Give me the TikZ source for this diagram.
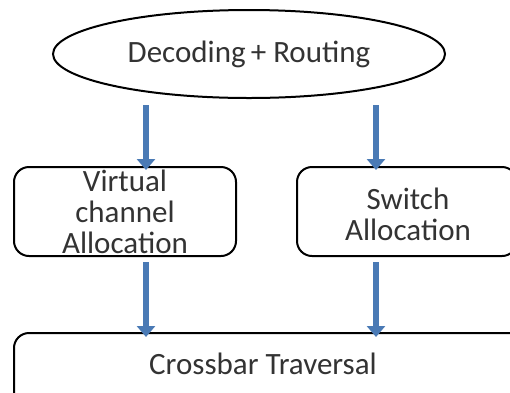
\documentclass[tikz,border=0pt]{standalone}
\usepackage{fontspec}
\setmainfont{Carlito}
\usetikzlibrary{shapes.geometric,arrows.meta}
\definecolor{txt}{HTML}{333333}
\definecolor{arrblue}{HTML}{4A7AB5}
\tikzset{
  lbl/.style={text=txt, font=\fontsize{31}{31}\selectfont, align=center, inner sep=0pt},
  box/.style={draw=black, line width=2pt, rounded corners=15pt, inner sep=0pt},
  oval/.style={draw=black, line width=2pt, ellipse, inner sep=0pt},
  arr/.style={draw=arrblue, line width=6pt, -{Triangle[width=18pt,length=11pt]}}
}
\begin{document}
\begin{tikzpicture}[x=1pt,y=-1pt]
\useasboundingbox (0,0) rectangle (510,392);
\clip (0,0) rectangle (510,392);
\node[oval, lbl, minimum width=392pt, minimum height=88pt] (dec) at (249,54) {Decoding\,+ Routing};
\node[box, minimum width=222pt, minimum height=89pt] (vc) at (125,211.5) {};
\node[lbl] (vct) at (125,212) {Virtual\\channel\\Allocation};
\node[box, minimum width=220pt, minimum height=89pt] (sw) at (407,211.5) {};
\node[lbl] (swt) at (408,214) {Switch\\Allocation};
\node[box, minimum width=520pt, minimum height=80pt] (cb) at (274,373) {};
\node[lbl] (cbt) at (263,364) {Crossbar Traversal};
\draw[arr] ([xshift=21pt,yshift=-6pt]vc.north |- dec.south) -- ([xshift=21pt,yshift=-4pt]vc.north);
\draw[arr] ([xshift=-31pt,yshift=-6pt]sw.north |- dec.south) -- ([xshift=-31pt,yshift=-4pt]sw.north);
\draw[arr] ([xshift=21pt,yshift=-5pt]vc.south) -- ([xshift=21pt,yshift=-5pt]vc.south |- cb.north);
\draw[arr] ([xshift=-31pt,yshift=-5pt]sw.south) -- ([xshift=-31pt,yshift=-5pt]sw.south |- cb.north);
\end{tikzpicture}
\end{document}
